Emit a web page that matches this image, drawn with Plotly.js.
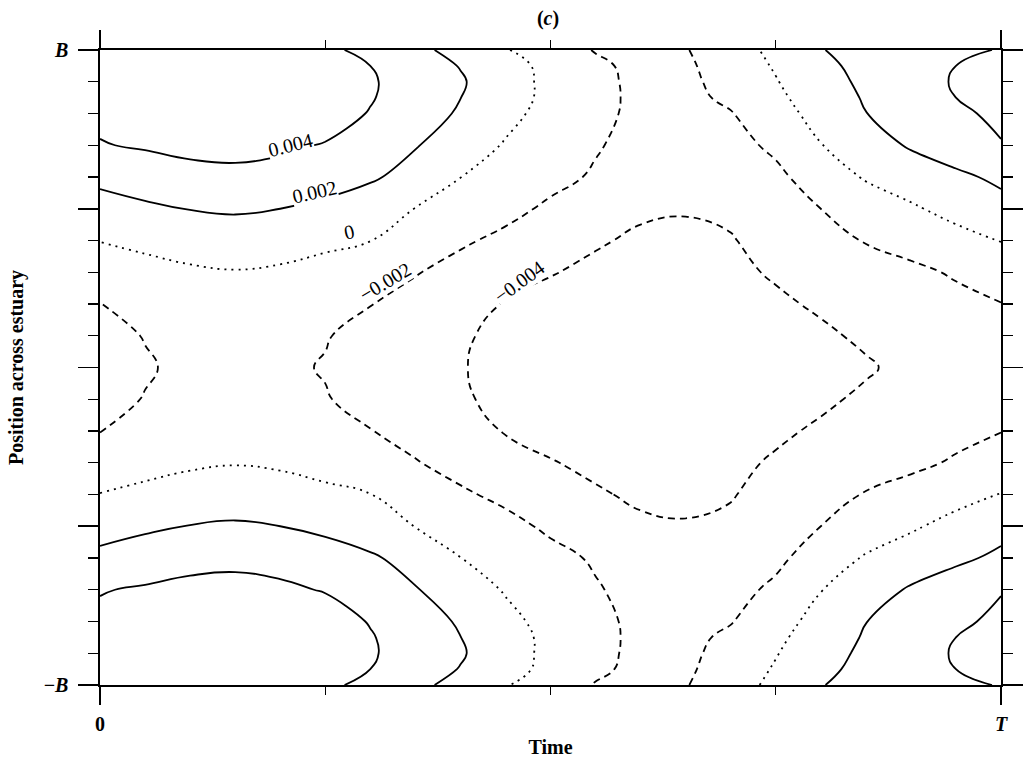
<!DOCTYPE html>
<html>
<head>
<meta charset="utf-8">
<script src="https://cdn.plot.ly/plotly-3.0.1.min.js"></script>
<style>
html,body{margin:0;padding:0;background:#ffffff;}
#chart{width:1024px;height:761px;}
</style>
</head>
<body>
<div id="chart"></div>
<script>
// Time axis (fraction of the period T)
const times = [0,0.05,0.1,0.15,0.2,0.25,0.3,0.35,0.4,0.45,0.5,0.55,0.6,0.65,0.7,0.75,0.8,0.85,0.9,0.95,1];
// Position across estuary (-B .. B)
const positions = [-1,-0.95,-0.9,-0.85,-0.8,-0.7,-0.6,-0.5,-0.4,-0.3,-0.2,-0.1,0,0.1,0.2,0.3,0.4,0.5,0.6,0.7,0.8,0.85,0.9,0.95,1];

// Values, one row per |position| (the field is symmetric about the centre line)
const z_y100 = [0.0041,0.0045,0.0047,0.0047,0.0045,0.0043,0.0036,0.0025,0.00133,0.00012,-0.00106,-0.0021,-0.0026,-0.0021,-0.00088,0.00049,0.00194,0.00251,0.00304,0.0036,0.0041];
const z_y095 = [0.0044,0.0047,0.0049,0.0050,0.0048,0.0046,0.0040,0.00296,0.00192,0.00067,-0.0005,-0.00164,-0.0025,-0.0023,-0.0011,0.00017,0.00158,0.0025,0.0032,0.0040,0.0044];
const z_y090 = [0.0046,0.0049,0.0051,0.0052,0.0050,0.0047,0.0042,0.00312,0.0022,0.00077,-0.00044,-0.00156,-0.0024,-0.0024,-0.00135,-0.0001,0.00124,0.00238,0.00325,0.00415,0.0046];
const z_y085 = [0.0045,0.0049,0.0051,0.0052,0.0051,0.0048,0.00413,0.00307,0.00202,0.00074,-0.00044,-0.0015,-0.0024,-0.0025,-0.00163,-0.00038,0.00093,0.00218,0.00306,0.0040,0.0045];
const z_y080 = [0.0044,0.0048,0.0051,0.0052,0.0051,0.0048,0.0039,0.00285,0.0018,0.0005,-0.0006,-0.00158,-0.0024,-0.0026,-0.0021,-0.0007,0.00062,0.00197,0.00282,0.00365,0.0044];
const z_y070 = [0.0039,0.0042,0.0044,0.0045,0.0043,0.0039,0.0030,0.00212,0.00099,-0.00014,-0.00099,-0.00185,-0.0026,-0.0029,-0.0026,-0.00165,-0.00006,0.00112,0.0022,0.0031,0.0039];
const z_y060 = [0.0024,0.0029,0.0035,0.0036,0.0034,0.0030,0.0023,0.00119,0.00002,-0.00074,-0.0015,-0.0022,-0.0030,-0.0033,-0.0031,-0.0024,-0.0011,0.00018,0.00089,0.0016,0.0024];
const z_y050 = [0.00135,0.0017,0.00205,0.0022,0.0020,0.0015,0.0007,-0.00003,-0.00077,-0.0015,-0.0023,-0.0030,-0.0037,-0.0039,-0.0037,-0.0030,-0.0020,-0.00113,-0.00023,0.00057,0.00135];
const z_y040 = [0.00005,0.0005,0.0009,0.0011,0.0009,0.0005,0.00003,-0.0009,-0.00175,-0.0024,-0.0031,-0.0038,-0.0043,-0.0043,-0.0041,-0.0034,-0.0026,-0.0019,-0.0013,-0.0006,0.00005];
const z_y030 = [-0.00105,-0.0007,-0.0003,-0.0001,-0.0003,-0.0008,-0.0014,-0.0019,-0.0026,-0.00327,-0.0039,-0.0044,-0.0047,-0.0047,-0.0044,-0.0038,-0.0034,-0.0029,-0.0024,-0.0018,-0.00105];
const z_y020 = [-0.00205,-0.0017,-0.0014,-0.0013,-0.0014,-0.0017,-0.00195,-0.0026,-0.0033,-0.0041,-0.0046,-0.0050,-0.0052,-0.0052,-0.0049,-0.0043,-0.00375,-0.0033,-0.0029,-0.0025,-0.00205];
const z_y010 = [-0.0024,-0.00195,-0.0016,-0.0015,-0.0016,-0.0019,-0.00255,-0.0032,-0.0038,-0.0044,-0.0049,-0.0053,-0.0055,-0.0055,-0.0053,-0.0048,-0.0043,-0.0037,-0.0032,-0.0028,-0.0024];
const z_y000 = [-0.0025,-0.00212,-0.0017,-0.0016,-0.0017,-0.0021,-0.0027,-0.0033,-0.0039,-0.0045,-0.0050,-0.0054,-0.0056,-0.0057,-0.0055,-0.0051,-0.0046,-0.0042,-0.0035,-0.0030,-0.0025];

// Contour levels
const positiveLevels = [0.002, 0.004];
const zeroLevel = [0];
const negativeLevels = [-0.004, -0.002];
const labelLevels = [0.004, 0.002, 0, -0.002, -0.004];

// Axis tick labels
const timeTickVals = [0, 1];
const timeTickText = ['<b>0</b>', '<b><i>T</i></b>'];
const posTickVals = [-1, -0.5, 0, 0.5, 1];
const posTickText = ['<b>\u2212<i>B</i></b>', '', '', '', '<b><i>B</i></b>'];

// grid rows in order of increasing position
const zGrid = [z_y100, z_y095, z_y090, z_y085, z_y080, z_y070, z_y060, z_y050, z_y040, z_y030, z_y020, z_y010,
               z_y000,
               z_y010, z_y020, z_y030, z_y040, z_y050, z_y060, z_y070, z_y080, z_y085, z_y090, z_y095, z_y100];

const FONT = 'Liberation Serif, Times New Roman, serif';

function contourTrace(levels, dash) {
  const lo = Math.min.apply(null, levels), hi = Math.max.apply(null, levels);
  return {
    type: 'contour', x: times, y: positions, z: zGrid,
    autocontour: false,
    contours: {start: lo, end: hi, size: levels.length > 1 ? (hi - lo) / (levels.length - 1) : 1, coloring: 'none', showlabels: false},
    line: {color: '#000000', width: 1.8, dash: dash, smoothing: 1.3},
    showscale: false, hoverinfo: 'skip'
  };
}

const traces = [
  contourTrace(positiveLevels, 'solid'),
  contourTrace(zeroLevel, '2px,5px'),
  contourTrace(negativeLevels, '7px,5px')
];

// label placement (layout only)
const labelPlace = [
  {x: 0.211, y: 0.700, a: -14},
  {x: 0.238, y: 0.553, a: -13},
  {x: 0.276, y: 0.428, a: -12},
  {x: 0.316, y: 0.270, a: -31},
  {x: 0.465, y: 0.270, a: -36}
];
function fmt(v) {
  if (v === 0) return '0';
  return (v < 0 ? '\u2212' : '') + Math.abs(v).toFixed(3);
}
const annotations = labelLevels.map((v, i) => ({
  x: labelPlace[i].x, y: labelPlace[i].y, xref: 'x', yref: 'y',
  text: fmt(v), showarrow: false, textangle: labelPlace[i].a,
  xanchor: 'center', yanchor: 'middle',
  font: {family: FONT, size: 20, color: '#000000'},
  bgcolor: '#ffffff', borderpad: 0
}));

const layout = {
  width: 1024, height: 761,
  margin: {l: 100, r: 23, t: 50, b: 76, pad: 0},
  paper_bgcolor: '#ffffff', plot_bgcolor: '#ffffff',
  showlegend: false,
  title: {text: '<b>(<i>c</i>)</b>', x: 548/1024, xanchor: 'center', y: 1 - 18/761, yanchor: 'middle',
          font: {family: FONT, size: 20, color: '#000000'}},
  xaxis: {
    range: [0, 1], showgrid: false, zeroline: false,
    showline: true, linecolor: '#000000', linewidth: 1.6, mirror: 'allticks',
    ticks: 'outside', tickvals: timeTickVals, ticktext: timeTickText,
    ticklen: 18, tickwidth: 1.6, tickcolor: '#000000', ticklabelstandoff: 2,
    tickfont: {family: FONT, size: 20, color: '#000000'},
    minor: {tickvals: [0.25, 0.5, 0.75], ticks: 'outside', ticklen: 8, tickwidth: 1.3, tickcolor: '#000000', showgrid: false},
    title: {text: '<b>Time</b>', standoff: 6, font: {family: FONT, size: 20, color: '#000000'}}
  },
  yaxis: {
    range: [-1, 1], showgrid: false, zeroline: false,
    showline: true, linecolor: '#000000', linewidth: 1.6, mirror: 'allticks',
    ticks: 'outside', tickvals: posTickVals, ticktext: posTickText,
    ticklen: 20, tickwidth: 1.6, tickcolor: '#000000', ticklabelstandoff: 6,
    tickfont: {family: FONT, size: 20, color: '#000000'},
    minor: {dtick: 0.1, tick0: 0, ticks: 'outside', ticklen: 10, tickwidth: 1.3, tickcolor: '#000000', showgrid: false},
    title: {text: '<b>Position across estuary</b>', standoff: 14, font: {family: FONT, size: 20, color: '#000000'}}
  },
  annotations: annotations
};

Plotly.newPlot('chart', traces, layout, {displayModeBar: false, staticPlot: true});
</script>
</body>
</html>
